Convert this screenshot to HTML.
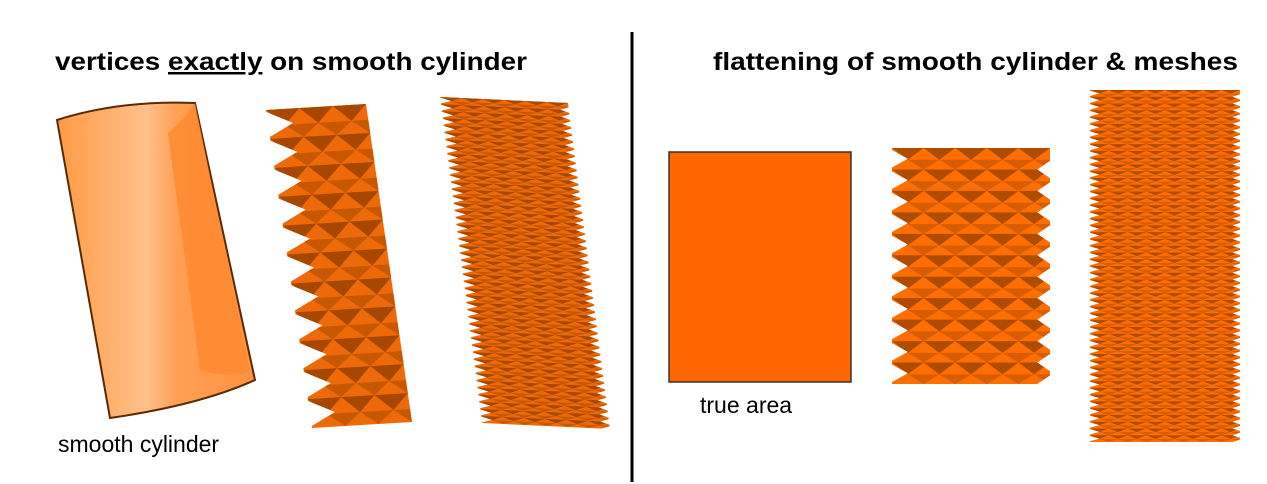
<!DOCTYPE html>
<html><head><meta charset="utf-8"><style>
html,body{margin:0;padding:0;background:#fff;}
svg{display:block;}
text{font-family:"Liberation Sans",Arial,sans-serif;}
</style></head><body>
<svg id="s" width="1267" height="484" viewBox="0 0 1267 484">
<defs>
<linearGradient id="cylg" x1="0" y1="0" x2="1" y2="0">
<stop offset="0" stop-color="#FF9A45"/><stop offset="0.45" stop-color="#FFC08A"/><stop offset="0.6" stop-color="#FFA055"/><stop offset="1" stop-color="#FF9240"/>
</linearGradient>
</defs>
<text x="55" y="70" font-size="25" font-weight="bold" fill="#000" textLength="472" lengthAdjust="spacingAndGlyphs">vertices <tspan text-decoration="underline">exactly</tspan> on smooth cylinder</text>
<text x="713" y="70" font-size="25" font-weight="bold" fill="#000" textLength="525" lengthAdjust="spacingAndGlyphs">flattening of smooth cylinder &amp; meshes</text>
<line x1="632" y1="32" x2="632" y2="482" stroke="#000" stroke-width="3"/>

<g>
<path d="M57,120 Q120,100 195,103 L255,380 Q200,405 110,418 Z" fill="url(#cylg)" stroke="#5a2a00" stroke-width="2"/>
<path d="M168,133 Q185,118 195,103 L250,372 Q230,378 200,370 Z" fill="#FF8A30" opacity="0.85"/>
</g>
<text x="58" y="452" font-size="23" fill="#000">smooth cylinder</text>

<rect x="669" y="152" width="182" height="230" fill="#FF6600" stroke="#333" stroke-width="1.5"/>
<text x="700" y="413" font-size="23" fill="#000">true area</text>
<g id="meshes"></g>
</svg>
<script>
// mesh specs: [cols, rows]
const meshNames = ['lantern-3d','lantern-dense-3d','flat-lantern','flat-lantern-dense'];
const meshCols = [3, 6, 5, 8];
const meshRows = [11, 46, 11, 52];
// affine frames: origin, x-axis vector (full width), y-axis vector (full height)
const meshFrames = [
  [266,110, 100,-6, 46,318],
  [440,97, 128,6, 42,326],
  [892,148, 158,0, 0,236],
  [1090,90, 150,0, 0,352]
];
const NS='http://www.w3.org/2000/svg';
const root=document.getElementById('meshes');
meshNames.forEach((nm,i)=>{
  const cols=meshCols[i], rows=meshRows[i], f=meshFrames[i];
  const W=100, H=100, w=W/cols, h=H/rows;
  const g=document.createElementNS(NS,'g');
  
  
  g.setAttribute('transform',`matrix(${f[2]/W},${f[3]/W},${f[4]/H},${f[5]/H},${f[0]},${f[1]})`);
  let bg=document.createElementNS(NS,'rect');
  bg.setAttribute('x',0);bg.setAttribute('y',0);bg.setAttribute('width',W);bg.setAttribute('height',H);
  bg.setAttribute('fill',i<2?'#EE6A08':'#FF6E00');
  g.appendChild(bg);
  let d='', d2='';
  for(let r=0;r<rows;r++){
    const y=r*h;
    for(let c=0;c<cols;c++){
      const x=c*w;
      d+=`M${x},${y}L${x+w},${y}L${x+w/2},${y+h*0.55}Z`;
      const x2=x+w/2;
      d2+=`M${x2},${y+h*0.55}L${Math.min(x2+w,W)},${y+h*0.55}L${Math.min(x2+w/2,W)},${y+h}Z`;
    }
  }
  const p2=document.createElementNS(NS,'path');
  p2.setAttribute('d',d2);p2.setAttribute('fill',i<2?'#C85800':'#D85C00');
  g.appendChild(p2);
  const p=document.createElementNS(NS,'path');
  p.setAttribute('d',d);p.setAttribute('fill',i<2?'#A84800':'#B04C00');
  g.appendChild(p);
  // white notches on edges
  const depth = i===0 ? 0.75 : 0.5;
  let n='';
  for(let r=0;r<rows;r++){
    const y=r*h;
    n+=`M-1,${y+h*0.05}L${w*depth},${y+h/2}L-1,${y+h*0.95}Z`;
    if(i!==0) n+=`M${W+1},${y+h*0.55}L${W-w*0.4},${y+h}L${W+1},${y+h*1.45}Z`;
  }
  const q=document.createElementNS(NS,'path');
  q.setAttribute('d',n);q.setAttribute('fill','#fff');
  g.appendChild(q);
  root.appendChild(g);
});
</script>
</body></html>
